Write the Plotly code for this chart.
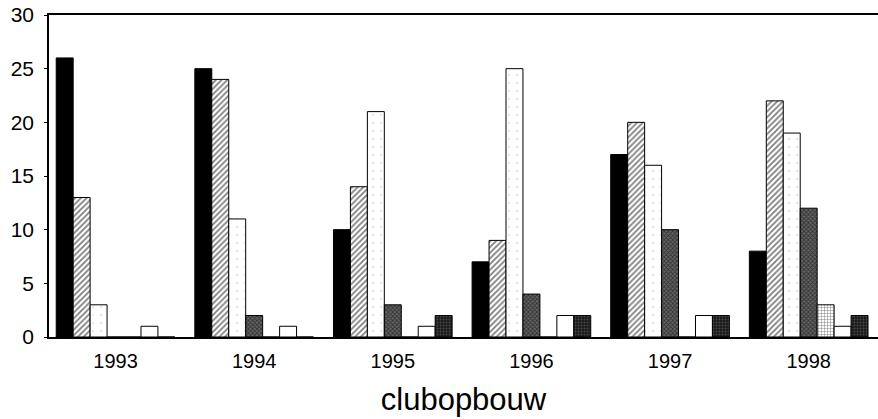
import plotly.graph_objects as go

years = ["1993", "1994", "1995", "1996", "1997", "1998"]
series_names = ["s1", "s2", "s3", "s4", "s5", "s6", "s7"]
s1 = [26, 25, 10, 7, 17, 8]
s2 = [13, 24, 14, 9, 20, 22]
s3 = [3, 11, 21, 25, 16, 19]
s4 = [0, 2, 3, 4, 10, 12]
s5 = [0, 0, 0, 0, 0, 3]
s6 = [1, 1, 1, 2, 2, 1]
s7 = [0, 0, 2, 2, 2, 2]
values = [s1, s2, s3, s4, s5, s6, s7]

styles = [
    dict(color="black"),
    dict(color="white", pattern=dict(shape="/", fgcolor="black", bgcolor="white", size=4, solidity=0.45)),
    dict(color="white", pattern=dict(shape=".", fgcolor="#bbbbbb", bgcolor="white", size=8, solidity=0.05)),
    dict(color="#333333", pattern=dict(shape="x", fgcolor="black", bgcolor="#666666", size=3, solidity=0.5)),
    dict(color="white", pattern=dict(shape="+", fgcolor="black", bgcolor="white", size=3, solidity=0.3)),
    dict(color="white"),
    dict(color="#222222", pattern=dict(shape=".", fgcolor="#777777", bgcolor="#1a1a1a", size=3, solidity=0.3)),
]

fig = go.Figure()
for name, vals, st in zip(series_names, values, styles):
    marker = dict(color=st["color"], line=dict(color="black", width=1))
    if "pattern" in st:
        marker["pattern"] = st["pattern"]
    fig.add_trace(go.Bar(x=years, y=vals, name=name, marker=marker, showlegend=False))

fig.update_layout(
    width=878, height=419,
    margin=dict(l=49, r=0, t=15, b=82, autoexpand=False),
    barmode="group", bargap=0.144, bargroupgap=0,
    plot_bgcolor="white", paper_bgcolor="white",
    font=dict(family="Liberation Sans, Arial, sans-serif", color="black"),
)
fig.update_xaxes(
    type="category", range=[-0.48, 5.5], automargin=False,
    showline=True, linecolor="black", linewidth=1.5, mirror=True,
    ticks="", showgrid=False, ticklabelstandoff=5,
    tickfont=dict(size=20),
    title=dict(text="clubopbouw", font=dict(size=31), standoff=18),
)
fig.update_yaxes(
    range=[0, 30], tickvals=[0, 5, 10, 15, 20, 25, 30], automargin=False,
    showline=True, linecolor="black", linewidth=1.5, mirror=True,
    ticks="outside", ticklen=3, tickcolor="black", showgrid=False, zeroline=False,
    ticklabelstandoff=6,
    tickfont=dict(size=21),
)
fig.write_html("out.html", config={"displayModeBar": False},
               post_script="document.body.style.margin='0';")
